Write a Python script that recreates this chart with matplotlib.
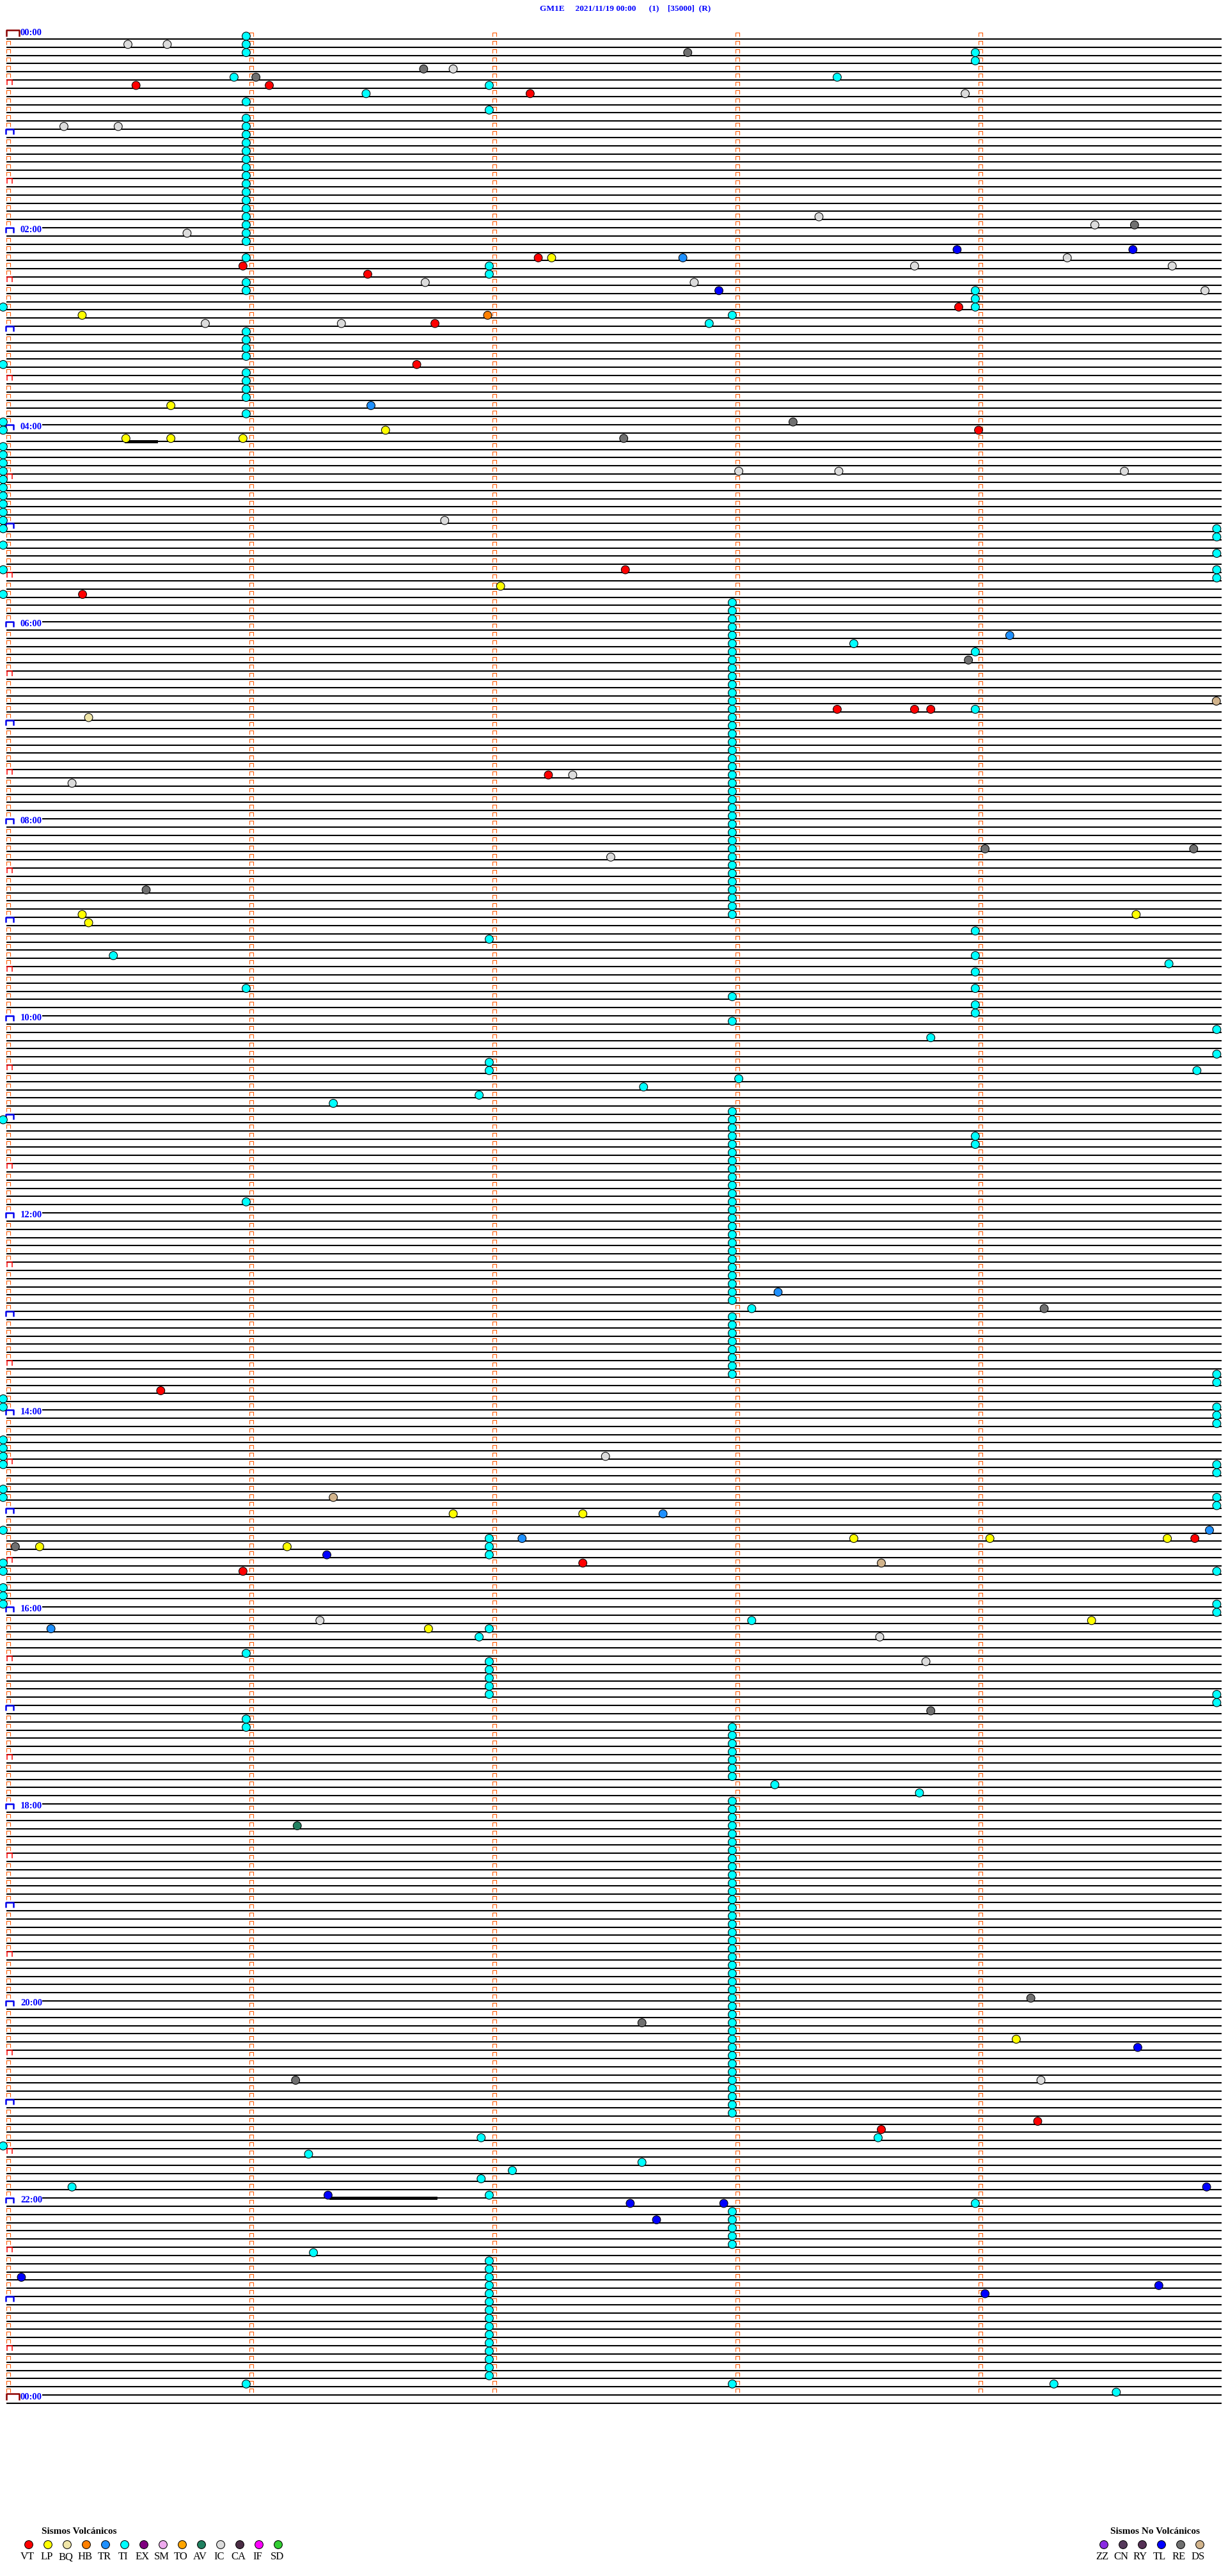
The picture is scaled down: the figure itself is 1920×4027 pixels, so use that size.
import matplotlib
matplotlib.use('Agg')
import matplotlib.pyplot as plt
from matplotlib.path import Path
from matplotlib.patches import Rectangle

# helicorder GM1E, one line = 5 minutes, 289 lines (00:00 -> 24:00)
n_rows = 289
row_seconds = 300
title_text = 'GM1E     2021/11/19 00:00      (1)    [35000]  (R)'
hour_label_rows = [0, 24, 48, 72, 96, 120, 144, 168, 192, 216, 240, 264, 288]
hour_labels = ['00:00', '02:00', '04:00', '06:00', '08:00', '10:00', '12:00',
               '14:00', '16:00', '18:00', '20:00', '22:00', '00:00']

# legend
volc_codes = ['VT', 'LP', 'BQ', 'HB', 'TR', 'TI', 'EX', 'SM', 'TO', 'AV', 'IC', 'CA', 'IF', 'SD']
volc_colors = ['#ff0000', '#ffff00', '#f0e6a8', '#ff8000', '#1e90ff', '#00ffff', '#800080',
               '#eeaaee', '#ffa500', '#208060', '#dcdcdc', '#4b2d45', '#ff00ff', '#32cd32']
nonvolc_codes = ['ZZ', 'CN', 'RY', 'TL', 'RE', 'DS']
nonvolc_colors = ['#8a2be2', '#55395a', '#553055', '#0000ff', '#707070', '#d2b48c']

# TI events that fall on the minute columns (seconds inside the line)
ti_col_sec = [-0.8, 59.2, 119.2, 179.2, 239.2, 298.8]
ti_col_rows = [
    [33, 40, 47, 48, 50, 51, 52, 53, 54, 55, 56, 57, 58, 59, 60, 62, 65, 68, 132,
     166, 167, 171, 172, 173, 174, 177, 178, 182, 186, 187, 189, 190, 191, 257],
    [0, 1, 2, 8, 10, 11, 12, 13, 14, 15, 16, 17, 18, 19, 20, 21, 22, 23, 24, 25, 27,
     30, 31, 36, 37, 38, 39, 41, 42, 43, 44, 46, 116, 142, 197, 205, 206, 286],
    [6, 9, 28, 29, 110, 125, 126, 183, 184, 185, 194, 198, 199, 200, 201, 202, 263,
     271, 272, 273, 274, 275, 276, 277, 278, 279, 280, 281, 282, 283, 284, 285],
    [34, 69, 70, 71, 72, 73, 74, 75, 76, 77, 78, 79, 80, 81, 82, 83, 84, 85, 86, 87,
     88, 89, 90, 91, 92, 93, 94, 95, 96, 97, 98, 99, 100, 101, 102, 103, 104, 105,
     106, 107, 117, 120, 131, 132, 133, 134, 135, 136, 137, 138, 139, 140, 141, 142,
     143, 144, 145, 146, 147, 148, 149, 150, 151, 152, 153, 154, 156, 157, 158, 159,
     160, 161, 162, 163, 206, 207, 208, 209, 210, 211, 212, 215, 216, 217, 218, 219,
     220, 221, 222, 223, 224, 225, 226, 227, 228, 229, 230, 231, 232, 233, 234, 235,
     236, 237, 238, 239, 240, 241, 242, 243, 244, 245, 246, 247, 248, 249, 250, 251,
     252, 253, 265, 266, 267, 268, 269, 286],
    [2, 3, 31, 32, 33, 75, 82, 109, 112, 114, 116, 118, 119, 134, 135, 264],
    [60, 61, 63, 65, 66, 121, 124, 163, 164, 167, 168, 169, 174, 175, 178, 179, 187,
     191, 192, 202, 203],
]

# other events: (line, second)
ti_other = [(5, 56.2), (5, 205.1), (7, 88.8), (35, 173.5), (74, 209.2), (112, 26.4),
            (113, 287.0), (122, 228.2), (126, 293.9), (127, 180.8), (128, 157.3),
            (129, 116.7), (130, 80.7), (155, 184.0), (193, 184.0), (195, 116.7),
            (213, 189.7), (214, 225.4), (256, 215.2), (256, 117.2), (258, 74.6),
            (259, 156.9), (260, 124.9), (261, 117.2), (262, 16.2), (270, 75.8),
            (286, 258.6), (287, 274.0)]
vt_events = [(6, 32.0), (6, 64.9), (7, 129.3), (27, 131.3), (28, 58.4), (29, 89.2),
             (33, 235.1), (35, 105.8), (40, 101.3), (48, 240.0), (65, 152.8), (68, 18.8),
             (82, 205.1), (82, 224.2), (82, 228.2), (90, 133.8), (165, 38.1), (183, 293.4),
             (186, 142.3), (187, 58.4), (254, 254.6), (255, 216.0)]
lp_events = [(27, 134.6), (34, 18.7), (45, 40.6), (48, 93.6), (49, 29.5), (49, 40.6),
             (49, 58.4), (67, 122.0), (107, 18.7), (107, 278.9), (108, 20.3), (180, 110.3),
             (180, 142.3), (183, 209.2), (183, 242.8), (183, 286.6), (184, 8.2), (184, 69.3),
             (193, 267.9), (194, 104.2), (244, 249.3)]
tr_events = [(27, 167.0), (45, 90.0), (73, 247.7), (153, 190.5), (180, 162.1),
             (182, 297.0), (183, 127.3), (194, 11.0)]
tl_events = [(26, 234.7), (26, 278.1), (31, 175.9), (185, 79.1), (245, 279.3),
             (262, 296.3), (263, 79.4), (264, 154.0), (264, 177.1), (266, 160.5),
             (273, 3.7), (274, 284.5), (275, 241.6)]
ic_events = [(1, 30.0), (1, 39.7), (4, 110.3), (7, 236.7), (11, 14.2), (11, 27.6),
             (22, 200.6), (23, 268.7), (24, 44.6), (27, 261.9), (28, 224.2), (28, 287.8),
             (30, 103.4), (30, 169.8), (31, 295.9), (35, 49.1), (35, 82.7), (53, 180.8),
             (53, 205.5), (53, 276.0), (59, 108.2), (90, 139.8), (91, 16.2), (100, 149.2),
             (173, 147.9), (193, 77.4), (195, 215.6), (198, 227.0), (249, 255.4)]
re_events = [(2, 168.2), (4, 103.0), (5, 61.6), (23, 278.5), (47, 194.2), (49, 152.4),
             (76, 237.5), (99, 241.6), (99, 293.1), (104, 34.5), (155, 256.2), (184, 2.2),
             (204, 228.2), (239, 252.9), (242, 156.9), (249, 71.4)]
hb_events = [(34, 118.8)]
bq_events = [(83, 20.3)]
ds_events = [(81, 298.7), (178, 80.7), (186, 216.0)]
av_events = [(218, 71.8)]

# large signals drawn on the trace: (line, start second, end second)
bursts = [(49, 29.5, 37.0), (263, 80.0, 106.0)]

color_of = dict(zip(volc_codes + nonvolc_codes, volc_colors + nonvolc_colors))

# pixel -> data units
W, H = 1920, 4027
X0, PX_MIN = 10, 380.0        # line starts at x=10 px, 380 px per minute
Y0, PX_ROW = 61, 12.8333      # first line at y=61 px
sx = 60.0 / PX_MIN            # seconds per pixel
sy = 1.0 / PX_ROW             # rows per pixel

fig = plt.figure(figsize=(W / 100, H / 100), dpi=100)
ax = fig.add_axes([0, 0, 1, 1])
ax.set_xlim(-X0 * sx, (W - X0) * sx)
ax.set_ylim((H - Y0) * sy, -Y0 * sy)
ax.axis('off')

rows = list(range(n_rows))
ax.hlines(rows, 0, row_seconds, colors='black', linewidth=1.5, zorder=1)

for r, s0, s1 in bursts:
    ax.plot([s0, s1], [r, r], color='black', linewidth=3.5, zorder=2)

# white box behind hour labels (hides the previous trace there)
for r in hour_label_rows:
    ax.add_patch(Rectangle((-1 * sx, r - 16 * sy), 57 * sx, 13.5 * sy,
                           facecolor='white', edgecolor='none', zorder=3))
    ax.text(22 * sx, r - 9.5 * sy, hour_labels[hour_label_rows.index(r)],
            color='#0000ff', fontsize=10.5, fontweight='bold', family='Liberation Serif',
            ha='left', va='center', zorder=4)

# start-of-line and minute markers
def cap(hw):
    return Path([(-1, -hw), (-1, hw), (1, hw), (1, -hw)],
                [Path.MOVETO, Path.LINETO, Path.LINETO, Path.LINETO])

small_rows = [r for r in rows if r % 6 != 0]
half_rows = [r for r in rows if r % 12 == 6]
hour_rows = [r for r in rows if r % 12 == 0 and r not in (0, 288)]

ax.plot([3 * sx] * len(small_rows), [r - 6.7 * sy for r in small_rows], linestyle='none',
        marker=cap(0.9), ms=4.3, mfc='none', mec='#ff5a00', mew=0.8, zorder=4)
for m in range(1, 5):
    ax.plot([m * 60 + 3 * sx] * 288, [r - 6.7 * sy for r in rows[:288]], linestyle='none',
            marker=cap(0.9), ms=4.3, mfc='none', mec='#ff5a00', mew=0.8, zorder=4)
ax.plot([4.5 * sx] * len(half_rows), [r - 8.5 * sy for r in half_rows], linestyle='none',
        marker=cap(1.0), ms=6.3, mfc='none', mec='#ff0000', mew=1.1, zorder=4)
ax.plot([5 * sx] * len(hour_rows), [r - 9 * sy for r in hour_rows], linestyle='none',
        marker=cap(0.66), ms=8.6, mfc='none', mec='#0000ee', mew=1.8, zorder=4)
ax.plot([10 * sx] * 2, [r - 9.5 * sy for r in (0, 288)], linestyle='none',
        marker=cap(0.5), ms=15, mfc='none', mec='#8b0000', mew=1.8, zorder=4)

# events
events = []
for s, rr in zip(ti_col_sec, ti_col_rows):
    events += [(r, s, 'TI') for r in rr]
for code, lst in [('TI', ti_other), ('VT', vt_events), ('LP', lp_events),
                  ('TR', tr_events), ('TL', tl_events), ('IC', ic_events),
                  ('RE', re_events), ('HB', hb_events), ('BQ', bq_events),
                  ('DS', ds_events), ('AV', av_events)]:
    events += [(r, s, code) for r, s in lst]
events.sort(key=lambda e: e[0])

ax.scatter([e[1] for e in events], [e[0] - 4.5 * sy for e in events], s=9.2 ** 2,
           c=[color_of[e[2]] for e in events], edgecolors='black', linewidths=0.75,
           zorder=6)

# overlay in pixel coordinates for title and legend
ov = fig.add_axes([0, 0, 1, 1])
ov.set_xlim(0, W)
ov.set_ylim(H, 0)
ov.axis('off')
ov.patch.set_alpha(0)

ov.text(978, 13, title_text, color='#0000ff', fontsize=9.6, fontweight='bold',
        family='Liberation Serif', ha='center', va='center')

ov.text(124, 3957, 'Sismos Volcánicos', fontsize=11, fontweight='bold',
        family='Liberation Serif', ha='center', va='center')
vx = [45 + 30 * i for i in range(len(volc_codes))]
ov.scatter(vx, [3978] * len(vx), s=9.2 ** 2, c=volc_colors, edgecolors='black',
           linewidths=0.75)
for x, code in zip(vx, volc_codes):
    ov.text(x - 2, 3997, code, fontsize=12, family='Liberation Serif',
            ha='center', va='center')

ov.text(1806, 3957, 'Sismos No Volcánicos', fontsize=11, fontweight='bold',
        family='Liberation Serif', ha='center', va='center')
nx = [1726 + 30 * i for i in range(len(nonvolc_codes))]
ov.scatter(nx, [3978] * len(nx), s=9.2 ** 2, c=nonvolc_colors, edgecolors='black',
           linewidths=0.75)
for x, code in zip(nx, nonvolc_codes):
    ov.text(x - 3, 3997, code, fontsize=12, family='Liberation Serif',
            ha='center', va='center')

fig.savefig('out.png', dpi=100)
